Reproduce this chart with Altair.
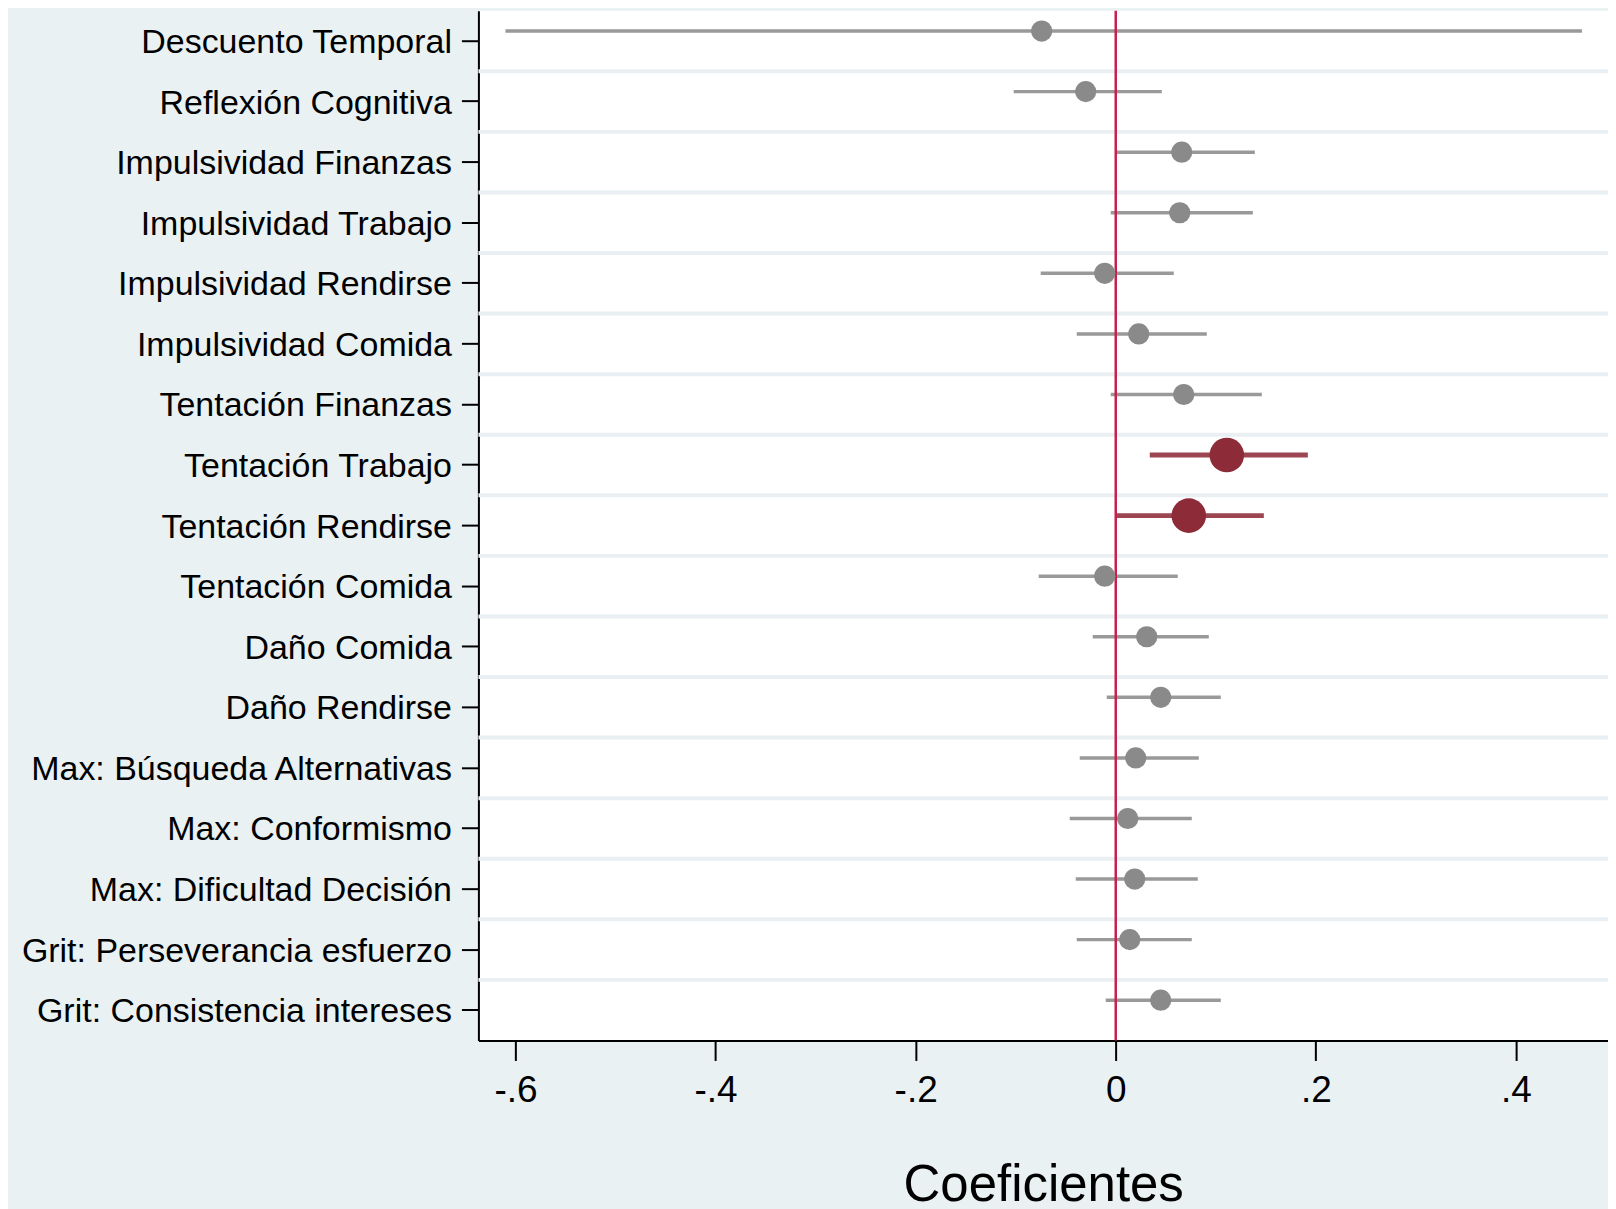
import altair as alt
import pandas as pd

categories = [
    "Descuento Temporal", "Reflexión Cognitiva", "Impulsividad Finanzas",
    "Impulsividad Trabajo", "Impulsividad Rendirse", "Impulsividad Comida",
    "Tentación Finanzas", "Tentación Trabajo", "Tentación Rendirse",
    "Tentación Comida", "Daño Comida", "Daño Rendirse",
    "Max: Búsqueda Alternativas", "Max: Conformismo", "Max: Dificultad Decisión",
    "Grit: Perseverancia esfuerzo", "Grit: Consistencia intereses",
]
coef = [-0.074, -0.030, 0.066, 0.064, -0.011, 0.023, 0.068, 0.111, 0.073,
        -0.011, 0.031, 0.045, 0.020, 0.012, 0.019, 0.014, 0.045]
ci_low = [-0.610, -0.102, 0.001, -0.005, -0.075, -0.039, -0.005, 0.034, 0.001,
          -0.077, -0.023, -0.009, -0.036, -0.046, -0.040, -0.039, -0.010]
ci_high = [0.466, 0.046, 0.139, 0.137, 0.058, 0.091, 0.146, 0.192, 0.148,
           0.062, 0.093, 0.105, 0.083, 0.076, 0.082, 0.076, 0.105]
significant = ["no"] * 7 + ["yes", "yes"] + ["no"] * 8
x_ticks = [-0.6, -0.4, -0.2, 0.0, 0.2, 0.4]

df = pd.DataFrame({"cat": categories, "coef": coef, "lo": ci_low,
                   "hi": ci_high, "sig": significant})
grid_df = pd.DataFrame({"cat": categories[:-1]})
zero_df = pd.DataFrame({"x": [0.0]})

FONT = "Liberation Sans"
XDOM = [-0.637, 0.492]

yenc = alt.Y("cat:N", sort=categories,
             scale=alt.Scale(type="band", paddingInner=0, paddingOuter=0),
             axis=alt.Axis(title=None, grid=False, labelFontSize=34, labelFont=FONT,
                           labelColor="black", tickSize=17, tickWidth=2,
                           tickColor="black", domainColor="black", domainWidth=2,
                           labelPadding=10, labelLimit=600, labelOffset=2))
xscale = alt.Scale(domain=XDOM, nice=False, zero=False)
xaxis = alt.Axis(title="Coeficientes", values=x_ticks, grid=False,
                 labelExpr="(datum.value < 0 ? '-' : '') + replace(format(abs(datum.value), '.1~f'), '0.', '.')",
                 labelFontSize=37, labelFont=FONT, labelColor="black",
                 tickSize=20, tickWidth=2, tickColor="black",
                 domainColor="black", domainWidth=2, labelPadding=12,
                 titleFontSize=51, titleFont=FONT, titleFontWeight="normal",
                 titleColor="black", titlePadding=52)

grid = alt.Chart(grid_df).mark_rule(color="#e9eff2", strokeWidth=4, yOffset=30.3).encode(
    y=yenc
)

ci = alt.Chart(df).mark_rule(yOffset=-10).encode(
    x=alt.X("lo:Q", scale=xscale, axis=xaxis),
    x2="hi:Q",
    y=yenc,
    color=alt.condition(alt.datum.sig == "yes", alt.value("#9c4652"), alt.value("#999999")),
    strokeWidth=alt.condition(alt.datum.sig == "yes", alt.value(5), alt.value(3.5)),
)

zero = alt.Chart(zero_df).mark_rule(color="#c8204e", strokeWidth=2.5).encode(
    x=alt.X("x:Q", scale=xscale)
)

pts = alt.Chart(df).mark_circle(opacity=1, yOffset=-10).encode(
    x=alt.X("coef:Q", scale=xscale),
    y=yenc,
    color=alt.condition(alt.datum.sig == "yes", alt.value("#8e2b38"), alt.value("#8a8a8a")),
    size=alt.condition(alt.datum.sig == "yes", alt.value(1200), alt.value(450)),
)

chart = alt.layer(grid, ci, zero, pts).properties(
    width=1131, height=1031,
    autosize=alt.AutoSizeParams(type="none"),
    padding={"left": 471, "top": 2, "right": 0, "bottom": 180},
    background="#e9f1f3",
).configure_view(fill="white", strokeWidth=0)

chart.save("out.html", embed_options={"renderer": "svg", "actions": False})
